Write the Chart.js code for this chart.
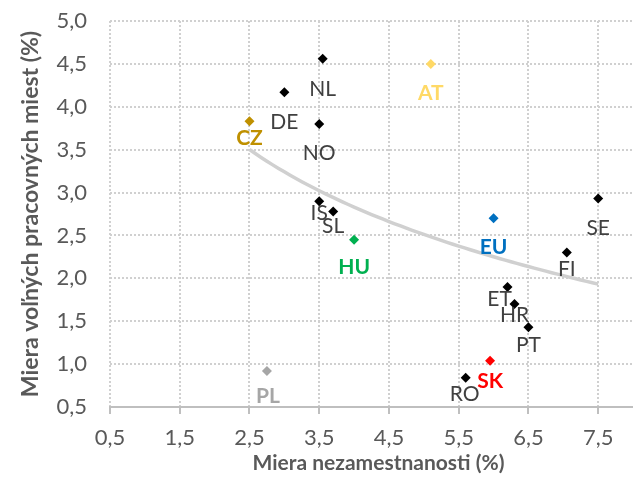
<!DOCTYPE html>
<html>
<head>
<meta charset="utf-8">
<script src="https://cdn.jsdelivr.net/npm/chart.js@4.4.1/dist/chart.umd.min.js"></script>
<style>
  html, body { margin: 0; padding: 0; background: #fff; overflow: hidden; width: 633px; height: 480px; }
  canvas { display: block; }
</style>
</head>
<body>
<!-- plocha grafu v Exceli presahuje pravý okraj výrezu -->
<canvas id="graf" width="652" height="480"></canvas>
<script>
// krajiny a hodnoty odčítané z grafu
const krajiny = ['CZ', 'DE', 'NL', 'NO', 'AT', 'IS', 'SL', 'HU', 'EU', 'SE', 'FI', 'ET', 'HR', 'PT', 'SK', 'RO', 'PL'];
const nezamestnanost = [2.5, 3.0, 3.55, 3.5, 5.1, 3.5, 3.7, 4.0, 6.0, 7.5, 7.05, 6.2, 6.3, 6.5, 5.95, 5.6, 2.75];
const volneMiesta = [3.83, 4.17, 4.56, 3.8, 4.5, 2.9, 2.78, 2.45, 2.7, 2.93, 2.3, 1.9, 1.7, 1.43, 1.04, 0.84, 0.92];
const xTicky = [0.5, 1.5, 2.5, 3.5, 4.5, 5.5, 6.5, 7.5];
const yTicky = [0.5, 1.0, 1.5, 2.0, 2.5, 3.0, 3.5, 4.0, 4.5, 5.0];

// zvýraznené krajiny (farba bodu aj popisu)
const zvyraznene = {
  CZ: '#BF9000',
  AT: '#FFD966',
  EU: '#0070C0',
  HU: '#00B050',
  SK: '#FF0000',
  PL: '#A6A6A6'
};

// posun popisu od bodu [dx, dy] v pixeloch
const posuny = {
  CZ: [0, 17], DE: [0, 30], NL: [0, 30], NO: [0, 29], AT: [0, 29],
  IS: [0, 12], SL: [0, 15], HU: [0, 28], EU: [0, 29], SE: [0, 30],
  FI: [0, 17], ET: [-8, 12], HR: [0, 11], PT: [0, 18], SK: [0, 21],
  RO: [-1, 16], PL: [1, 25]
};

const body = krajiny.map((k, i) => ({ x: nezamestnanost[i], y: volneMiesta[i] }));
const farbyBodov = krajiny.map(k => zvyraznene[k] || '#000000');

// logaritmický trend (ako v Exceli): y = a + b*ln(x)
const lnX = nezamestnanost.map(v => Math.log(v));
const n = lnX.length;
const mx = lnX.reduce((s, v) => s + v, 0) / n;
const my = volneMiesta.reduce((s, v) => s + v, 0) / n;
let sxy = 0, sxx = 0;
lnX.forEach((u, i) => {
  sxy += (u - mx) * (volneMiesta[i] - my);
  sxx += (u - mx) * (u - mx);
});
const b = sxy / sxx;
const a = my - b * mx;
const xMin = Math.min(...nezamestnanost);
const xMax = Math.max(...nezamestnanost);
const trend = [];
for (let i = 0; i <= 60; i++) {
  const x = xMin + (xMax - xMin) * i / 60;
  trend.push({ x: x, y: a + b * Math.log(x) });
}

const formatCisla = v => v.toFixed(1).replace('.', ',');
const sivaText = '#595959';

const popisky = {
  id: 'popisky',
  afterDatasetsDraw(chart) {
    const meta = chart.getDatasetMeta(0);
    const ctx = chart.ctx;
    ctx.save();
    ctx.textAlign = 'center';
    ctx.textBaseline = 'middle';
    meta.data.forEach((pt, i) => {
      const k = krajiny[i];
      const farba = zvyraznene[k];
      ctx.font = (farba ? 'bold ' : '') + '21px Lato';
      ctx.fillStyle = farba || '#404040';
      const p = posuny[k];
      ctx.fillText(k, pt.x + p[0], pt.y + p[1]);
    });
    ctx.restore();
  }
};

new Chart(document.getElementById('graf'), {
  type: 'scatter',
  data: {
    datasets: [
      {
        label: 'Krajiny',
        data: body,
        pointStyle: 'rectRot',
        pointRadius: 5,
        pointBorderWidth: 0,
        pointBackgroundColor: farbyBodov,
        pointBorderColor: farbyBodov
      },
      {
        label: 'Trend',
        type: 'line',
        data: trend,
        borderColor: '#d0d0d0',
        borderWidth: 3.5,
        pointRadius: 0,
        tension: 0,
        fill: false
      }
    ]
  },
  options: {
    responsive: false,
    animation: false,
    layout: { padding: { top: 21, right: 0, bottom: 0, left: 0 } },
    plugins: {
      legend: { display: false },
      tooltip: { enabled: false }
    },
    scales: {
      x: {
        type: 'linear',
        min: 0.5,
        max: 8.2,
        afterBuildTicks: s => { s.ticks = xTicky.map(v => ({ value: v })); },
        afterFit: s => { s.height = 73; },
        ticks: {
          font: { family: 'Lato', size: 22 },
          color: sivaText,
          padding: 11,
          callback: v => formatCisla(v)
        },
        grid: {
          color: '#d0d0d0',
          lineWidth: 2,
          tickColor: '#bfbfbf',
          tickLength: 7,
          tickWidth: 2
        },
        border: { display: true, color: '#bfbfbf', width: 2, dash: [2, 2] },
        title: {
          display: true,
          text: 'Miera nezamestnanosti (%)',
          font: { family: 'Lato', size: 21, weight: 'bold' },
          color: sivaText,
          padding: { top: 0, bottom: 4 }
        }
      },
      y: {
        min: 0.5,
        max: 5.0,
        afterBuildTicks: s => { s.ticks = yTicky.map(v => ({ value: v })); },
        afterFit: s => {
          s.width = 110;
          // odsadenie popisov nemá posúvať plochu grafu nadol
          s.paddingTop = 0;
          s.paddingBottom = 0;
        },
        ticks: {
          font: { family: 'Lato', size: 22 },
          color: sivaText,
          padding: 23,
          callback: v => formatCisla(v)
        },
        grid: {
          color: '#d0d0d0',
          lineWidth: 2,
          drawTicks: false
        },
        border: { display: false, dash: [2, 2] },
        title: {
          display: true,
          text: 'Miera voľných pracovných miest (%)',
          font: { family: 'Lato', size: 23, weight: 'bold' },
          color: sivaText,
          padding: { top: 17, bottom: 0 }
        }
      }
    }
  },
  plugins: [popisky]
});
</script>
</body>
</html>
